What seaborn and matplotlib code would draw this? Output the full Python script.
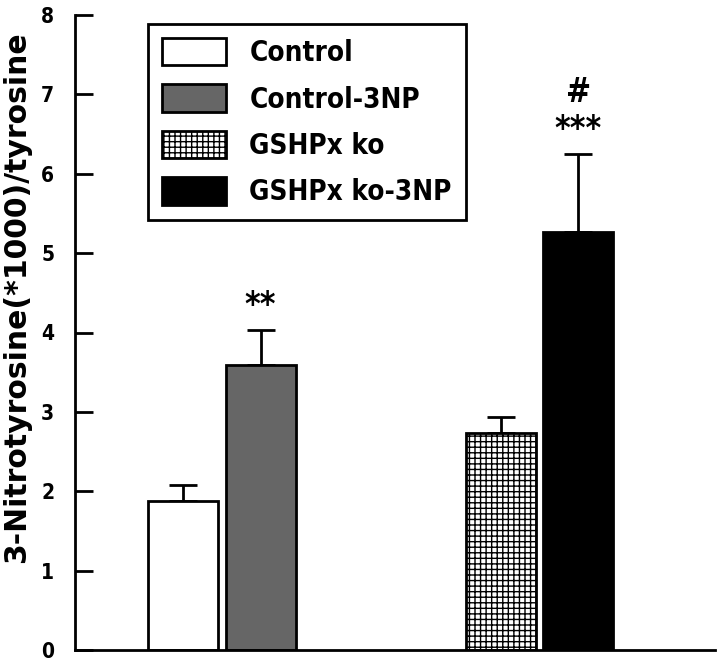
import matplotlib
matplotlib.use("Agg")
import matplotlib.pyplot as plt
import seaborn as sns
import pandas as pd
import numpy as np
from matplotlib.patches import Patch

groups = ["Control", "Control-3NP", "GSHPx ko", "GSHPx ko-3NP"]
positions = [0.0, 1.0, 4.1, 5.1]
means = [1.88, 3.59, 2.74, 5.26]
sems = [0.20, 0.44, 0.19, 0.99]
marks = ["", "**", "", "#\n***"]
yticks = [0, 1, 2, 3, 4, 5, 6, 7, 8]
ylabel = "3-Nitrotyrosine(*1000)/tyrosine"

faces = ["white", "#666666", "white", "black"]
hatches = ["", "", "+++", ""]

sns.set_theme(style="ticks")
plt.rcParams["font.family"] = ["DejaVu Sans"]
plt.rcParams["font.weight"] = "bold"
plt.rcParams["font.stretch"] = "condensed"
plt.rcParams["hatch.linewidth"] = 1.0
plt.rcParams["text.color"] = "black"
plt.rcParams["ytick.color"] = "black"
plt.rcParams["ytick.labelcolor"] = "black"

fig = plt.figure(figsize=(7.2, 6.61), dpi=100)
ax = fig.add_axes([75/720, 11/661, 640/720, 635/661])

df = pd.DataFrame({"pos": positions, "mean": means, "group": groups})
sns.barplot(data=df, x="pos", y="mean", native_scale=True, width=0.903,
            color="white", edgecolor="black", linewidth=2, ax=ax, errorbar=None)

for patch, fc, h in zip(ax.patches, faces, hatches):
    patch.set_facecolor(fc)
    patch.set_hatch(h)

ax.errorbar(positions, means, yerr=[np.zeros(len(sems)), sems], fmt="none",
            ecolor="black", elinewidth=2, capsize=10, capthick=2, zorder=0)

for x, m, s, t in zip(positions, means, sems, marks):
    if t:
        ax.text(x, m + s + 0.1, t, ha="center", va="bottom", fontsize=24,
                fontweight="bold", linespacing=1.15, color="black")

ax.set_xlim(-1.394, 6.865)
ax.set_ylim(0, 8)
ax.set_yticks(yticks)
ax.set_yticklabels([str(v) for v in yticks], fontsize=15, fontweight="bold")
ax.set_xticks([])
ax.set_xlabel("")
ax.set_ylabel(ylabel, fontsize=21.5, fontweight="bold", fontstretch="normal",
              color="black")
ax.yaxis.set_label_coords(-0.068, 0.556)
ax.tick_params(axis="y", direction="in", length=13, width=2, pad=15, color="black")
for side in ["top", "right"]:
    ax.spines[side].set_visible(False)
for side in ["left", "bottom"]:
    ax.spines[side].set_linewidth(2)
    ax.spines[side].set_color("black")

handles = [Patch(facecolor=fc, edgecolor="black", hatch=h, linewidth=2)
           for fc, h in zip(faces, hatches)]
leg = ax.legend(handles, groups, loc="upper left", bbox_to_anchor=(73/640, 1 - 9/635),
                frameon=True, fancybox=False, edgecolor="black", framealpha=1,
                prop={"size": 20, "weight": "bold", "stretch": "condensed"},
                handlelength=2.3, handleheight=1.15, handletextpad=0.85,
                labelspacing=0.62, borderpad=0.5, borderaxespad=0)
leg.get_frame().set_linewidth(2)
for t in leg.get_texts():
    t.set_color("black")

fig.savefig("out.png", dpi=100)
